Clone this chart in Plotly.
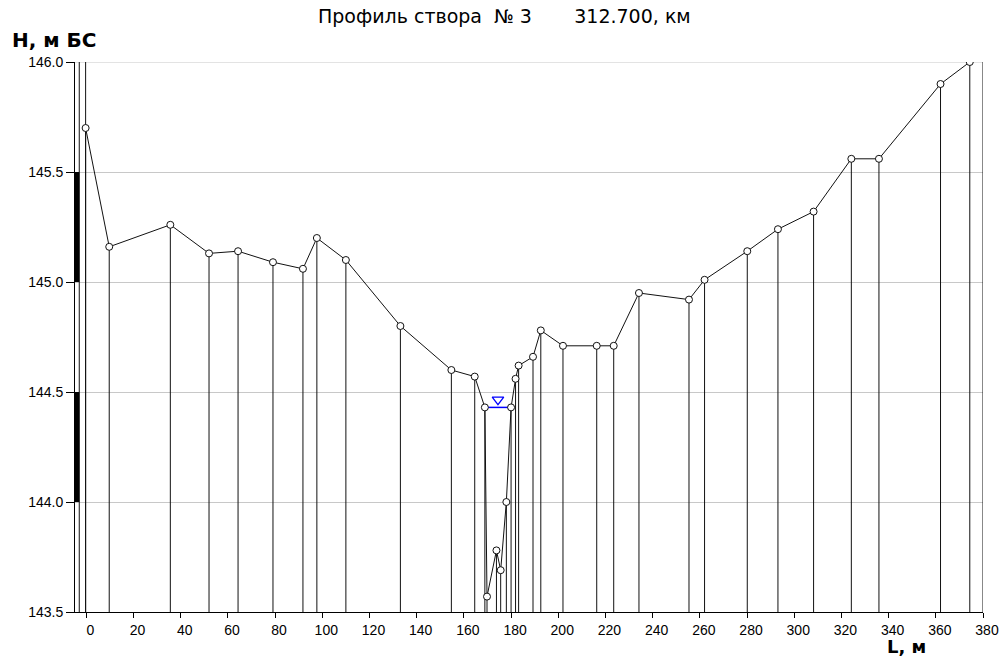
import plotly.graph_objects as go

# ---- data ----
L = [-0.3, 9.7, 35.6, 52.0, 64.3, 79.1, 91.8, 97.7, 110.0, 133.1, 154.7, 164.6,
     168.9, 169.8, 173.8, 175.6, 178.0, 180.0, 181.9, 183.2, 189.3, 192.6, 202.0,
     216.3, 223.5, 234.2, 255.4, 262.0, 280.1, 293.1, 308.2, 324.2, 335.9, 362.0, 374.4]
H = [145.70, 145.16, 145.26, 145.13, 145.14, 145.09, 145.06, 145.20, 145.10, 144.80, 144.60, 144.57,
     144.43, 143.57, 143.78, 143.69, 144.00, 144.43, 144.56, 144.62, 144.66, 144.78, 144.71,
     144.71, 144.71, 144.95, 144.92, 145.01, 145.14, 145.24, 145.32, 145.56, 145.56, 145.90, 146.00]

H_BOTTOM = 143.5
H_TOP = 146.0
L_LEFT = -4.8
L_RIGHT = 380
WATER_LEVEL = 144.43
WATER_EDGES = [168.9, 180.0]
GAUGE_RIGHT = -3.0
GAUGE_BLACK = [(145.0, 145.5), (144.0, 144.5)]
X_TICKS = list(range(0, 381, 20))
Y_TICKS = [143.5, 144.0, 144.5, 145.0, 145.5, 146.0]
NB = "\u00a0"
TITLE = "Профиль створа" + NB * 2 + "№ 3" + NB * 7 + "312.700, км"
Y_LABEL = "Н, м БС"
X_LABEL = "L, м"

fig = go.Figure()

# verticals from each profile point down to the bottom
vx, vy = [], []
for x, h in zip(L, H):
    vx += [x, x, None]
    vy += [h, H_BOTTOM, None]
fig.add_trace(go.Scatter(x=vx, y=vy, mode="lines", line=dict(color="#111111", width=1),
                         hoverinfo="skip", showlegend=False))

# boundary verticals (first point and right edge) full height
fig.add_trace(go.Scatter(x=[L[0], L[0], None, L_RIGHT, L_RIGHT],
                         y=[H_BOTTOM, H_TOP, None, H_BOTTOM, H_TOP],
                         mode="lines", line=dict(color="#111111", width=1),
                         hoverinfo="skip", showlegend=False))

# water level line
fig.add_trace(go.Scatter(x=WATER_EDGES, y=[WATER_LEVEL, WATER_LEVEL], mode="lines",
                         line=dict(color="#0000ff", width=1.5), hoverinfo="skip", showlegend=False))
# water level triangle
fig.add_trace(go.Scatter(x=[sum(WATER_EDGES) / 2], y=[WATER_LEVEL + 0.035], mode="markers",
                         marker=dict(symbol="triangle-down-open", size=10, color="#0000ff",
                                     line=dict(width=1.3, color="#0000ff")),
                         hoverinfo="skip", showlegend=False))

# profile line with points
fig.add_trace(go.Scatter(x=L, y=H, mode="lines+markers",
                         line=dict(color="#111111", width=1),
                         marker=dict(symbol="circle", size=7, color="white",
                                     line=dict(color="#111111", width=1)),
                         showlegend=False))

shapes = []
# top grid line
shapes.append(dict(type="line", xref="x", yref="y", x0=L_LEFT, x1=L_RIGHT, y0=H_TOP, y1=H_TOP,
                   line=dict(color="#c8c8c8", width=1), layer="below"))
# gauge
shapes.append(dict(type="line", xref="x", yref="y", x0=GAUGE_RIGHT, x1=GAUGE_RIGHT,
                   y0=H_BOTTOM, y1=H_TOP, line=dict(color="#111111", width=1)))
for y0, y1 in GAUGE_BLACK:
    shapes.append(dict(type="rect", xref="x", yref="y", x0=L_LEFT, x1=GAUGE_RIGHT,
                       y0=y0, y1=y1, fillcolor="black", line=dict(width=0)))

fig.update_layout(
    width=1003, height=657,
    autosize=False,
    margin=dict(l=75, r=20, t=62, b=45, autoexpand=False),
    paper_bgcolor="white", plot_bgcolor="white",
    shapes=shapes,
    annotations=[
        dict(text=TITLE, xref="paper", yref="paper", x=(316 - 75) / 908, y=(612 - 16) / 550,
             xanchor="left", yanchor="middle", showarrow=False,
             font=dict(family="DejaVu Sans", size=19, color="#000")),
        dict(text=Y_LABEL, xref="paper", yref="paper", x=(10 - 75) / 908, y=(612 - 40) / 550,
             xanchor="left", yanchor="middle", showarrow=False,
             font=dict(family="DejaVu Sans", size=20, color="#000", weight="bold")),
        dict(text=X_LABEL, xref="paper", yref="paper", x=(886 - 75) / 908, y=(612 - 646) / 550,
             xanchor="left", yanchor="middle", showarrow=False, borderpad=0,
             font=dict(family="DejaVu Sans", size=18, color="#000", weight="bold")),
    ],
    xaxis=dict(range=[L_LEFT, L_RIGHT], tickvals=X_TICKS, ticktext=[str(v) for v in X_TICKS],
               automargin=False,
               showgrid=False, zeroline=False, showline=True, linecolor="#000", linewidth=1,
               ticks="outside", ticklen=5, tickcolor="#000", tickwidth=1,
               ticklabelshift=4,
               tickfont=dict(family="Liberation Sans", size=14, color="#000")),
    yaxis=dict(range=[H_BOTTOM, H_TOP], tickvals=Y_TICKS, ticktext=[f"{v:.1f}" for v in Y_TICKS],
               automargin=False,
               showgrid=True, gridcolor="#c8c8c8", gridwidth=1, zeroline=False,
               showline=True, linecolor="#000", linewidth=1,
               ticks="outside", ticklen=8, tickcolor="#000", tickwidth=1,
               tickfont=dict(family="Liberation Sans", size=14, color="#000")),
)

fig.write_html("out.html")
